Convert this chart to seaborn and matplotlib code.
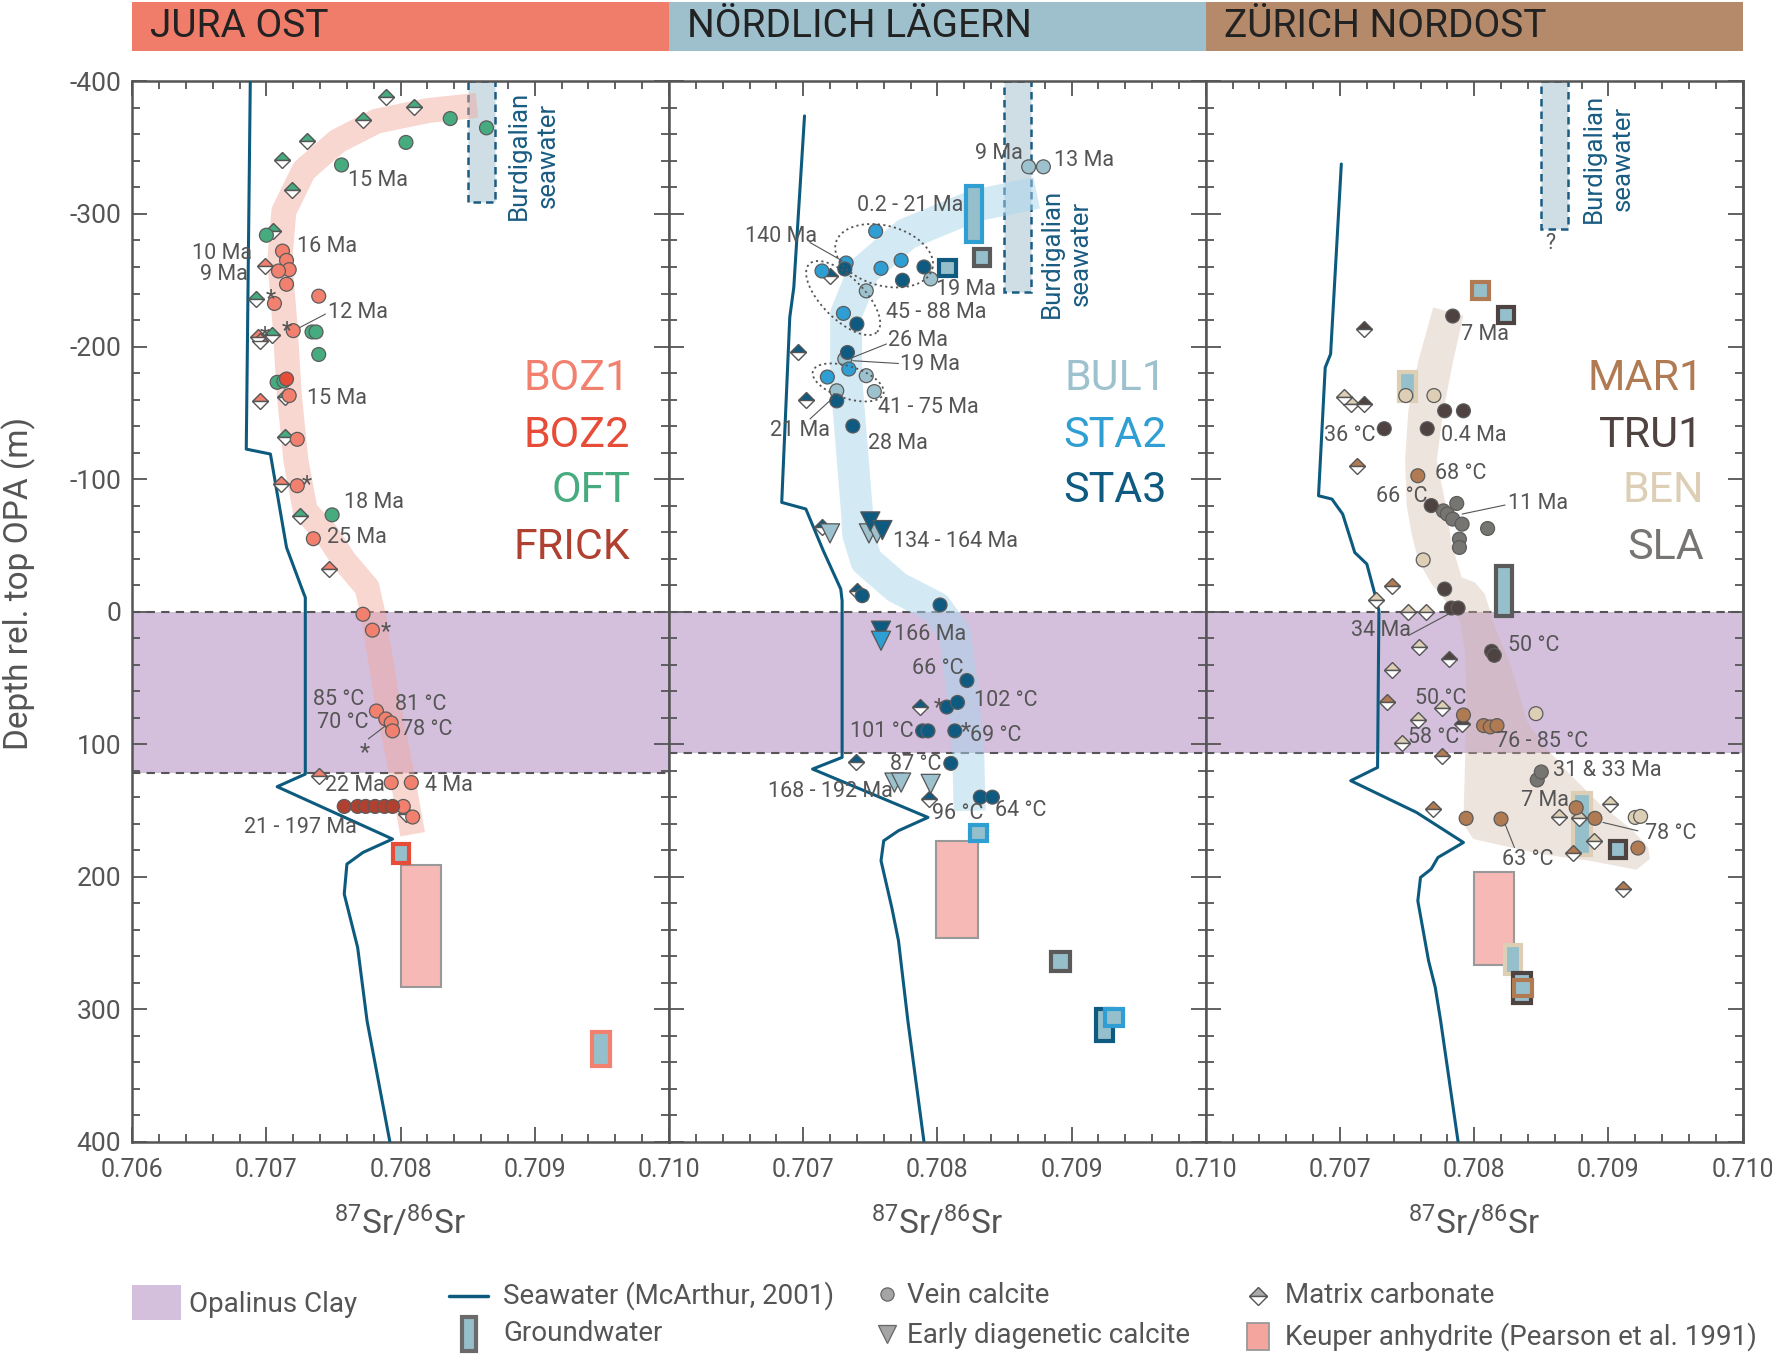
import numpy as np
import pandas as pd
import matplotlib
matplotlib.use('Agg')
import matplotlib.pyplot as plt
import seaborn as sns
from matplotlib.patches import Rectangle, Polygon
from matplotlib.ticker import MultipleLocator

sns.set_style('white')
plt.rcParams['font.family'] = ['Roboto', 'DejaVu Sans']
plt.rcParams['mathtext.default'] = 'regular'

GREY = '#555555'

# borehole colours
COL = {'BOZ1': '#f2806e', 'BOZ2': '#e74c38', 'OFT': '#46ab7f', 'FRICK': '#b0402f',
       'BUL1': '#9dc2ce', 'STA2': '#2f9fd3', 'STA3': '#0e5a80',
       'MAR1': '#b07a52', 'TRU1': '#4e4341', 'BEN': '#dccfb6', 'SLA': '#777572',
       'grey': '#5a5a5a'}

PANELS = ['JURA OST', 'NÖRDLICH LÄGERN', 'ZÜRICH NORDOST']
HEADER_COLORS = ['#f07c6a', '#9dc0cc', '#b48a6a']
HOLES = [['BOZ1', 'BOZ2', 'OFT', 'FRICK'], ['BUL1', 'STA2', 'STA3'], ['MAR1', 'TRU1', 'BEN', 'SLA']]
OPA_BASE = [122, 107, 107]

XTICKS = [0.706, 0.707, 0.708, 0.709, 0.710]
XTICK_LABELS = ['0.706', '0.707', '0.708', '0.709', '0.710']
YTICKS = [-400, -300, -200, -100, 0, 100, 200, 300, 400]
YTICK_LABELS = ['-400', '-300', '-200', '-100', '0', '100', '200', '300', '400']

# seawater curves (McArthur 2001) projected onto depth
SW_X = [
    [0.70688, 0.70685, 0.70703, 0.70709, 0.70715, 0.70728, 0.70729, 0.70729, 0.70708, 0.70794,
     0.70772, 0.70760, 0.70758, 0.70768, 0.70775, 0.70792],
    [0.70701, 0.70693, 0.70690, 0.70684, 0.70702, 0.70715, 0.70728, 0.70729, 0.70729, 0.70707,
     0.70793, 0.70771, 0.70760, 0.70758, 0.70766, 0.70771, 0.70778, 0.70790],
    [0.70701, 0.70693, 0.70689, 0.70684, 0.70694, 0.70702, 0.70711, 0.70720, 0.70726, 0.70729,
     0.70728, 0.70708, 0.70757, 0.70792, 0.70773, 0.70768, 0.70760, 0.70758, 0.70766, 0.70771,
     0.70775, 0.70788],
]
SW_D = [
    [-400, -122.6, -118.9, -83.6, -48.4, -13.2, -10.7, 122.6, 132.1, 171.6, 181.7, 190.5, 213.1,
     253.4, 308.7, 400],
    [-374, -244.6, -222, -82.4, -77.4, -45.9, -17, -8.2, 110, 118.8, 155.3, 165.3, 172.9, 188,
     223.2, 248.3, 308.7, 400],
    [-337.7, -194.3, -184.2, -87.4, -84.9, -73.6, -44.6, -35.9, -13.2, -0.6, 117.6, 127.6, 151.5,
     174.2, 185.5, 194.2, 200.6, 218.2, 263.4, 283.6, 308.7, 400],
]

# vein calcite (circles)
OFT_VEIN = [(0.70837, -372), (0.70864, -365), (0.70804, -354), (0.70756, -337), (0.70700, -284),
            (0.70734, -211), (0.70737, -211), (0.70739, -194), (0.70708, -173), (0.70713, -174),
            (0.70749, -73)]
BOZ1_VEIN = [(0.70712, -272), (0.70715, -265), (0.70717, -258), (0.70709, -257), (0.70715, -247),
             (0.70739, -238), (0.70706, -232.5), (0.70720, -212), (0.70717, -163), (0.70723, -130),
             (0.70723, -95), (0.70735, -55), (0.70772, 2), (0.70779, 14), (0.70782, 75),
             (0.70789, 81), (0.70793, 84), (0.70794, 90), (0.70793, 129), (0.70808, 129),
             (0.70802, 147), (0.70809, 155)]
BOZ2_VEIN = [(0.70715, -175.5)]
FRICK_VEIN = [(0.70758, 147), (0.70768, 147), (0.70774, 147), (0.70781, 147), (0.70788, 147),
              (0.70794, 147)]
STA2_VEIN = [(0.70754, -287), (0.70732, -263), (0.70714, -257), (0.70758, -259), (0.70773, -265),
             (0.70730, -225), (0.70734, -183), (0.70718, -177)]
STA3_VEIN = [(0.70731, -258.5), (0.70790, -260), (0.70774, -250), (0.70740, -217), (0.70733, -195.5),
             (0.70725, -159), (0.70737, -140), (0.70744, -12), (0.70802, -5), (0.70822, 52),
             (0.70807, 72), (0.70815, 68.5), (0.70789, 90), (0.70793, 90), (0.70813, 90),
             (0.70810, 114.5), (0.70832, 140), (0.70841, 140)]
BUL1_VEIN = [(0.70795, -251), (0.70747, -242), (0.70731, -190.6), (0.70747, -178), (0.70753, -166),
             (0.70725, -166.6), (0.70868, -335.6), (0.70879, -335.6)]
TRU1_VEIN = [(0.70784, -223), (0.70733, -138), (0.70765, -138), (0.70778, -151.5), (0.70792, -151.5),
             (0.70768, -80), (0.70778, -17), (0.70783, -2.7), (0.70788, -2.7), (0.70813, 30),
             (0.70815, 33)]
BEN_VEIN = [(0.70749, -163), (0.70770, -163), (0.70762, -39), (0.70846, 77), (0.70920, 155.3),
            (0.70924, 154.5)]
MAR1_VEIN = [(0.70758, -102.5), (0.70792, 78), (0.70807, 86), (0.70812, 87), (0.70817, 86),
             (0.70876, 148), (0.70890, 156), (0.70794, 156), (0.70820, 156.5), (0.70922, 178.4)]
SLA_VEIN = [(0.70777, -76), (0.70780, -73.6), (0.70784, -69.8), (0.70787, -81.6), (0.70791, -66),
            (0.70810, -62.7), (0.70789, -54.7), (0.70789, -48.4), (0.70847, 127), (0.70850, 121)]

# early diagenetic calcite (triangles)
STA3_EARLY = [(0.70750, -68), (0.70759, -61.5), (0.70758, 14.4)]
BUL1_EARLY = [(0.70720, -59), (0.70749, -59), (0.70755, -59), (0.70768, 129), (0.70773, 129),
              (0.70795, 130)]
STA2_EARLY = [(0.70758, 22)]

# matrix carbonate (half filled diamonds)
OFT_MATRIX = [(0.70789, -388), (0.70810, -381), (0.70772, -371), (0.70730, -355), (0.70712, -341),
              (0.70719, -318), (0.70705, -287), (0.70692, -236), (0.70704, -209), (0.70714, -162),
              (0.70714, -132), (0.70725, -72)]
BOZ1_MATRIX = [(0.70699, -261), (0.70694, -207), (0.70695, -204), (0.70695, -159), (0.70711, -96),
               (0.70747, -32), (0.70739, 124), (0.70804, 153)]
STA3_MATRIX = [(0.70720, -253), (0.70696, -196), (0.70702, -160), (0.70714, -63.5), (0.70740, -15.7),
               (0.70787, 71.8), (0.70739, 113.8), (0.70794, 141.4)]
TRU1_MATRIX = [(0.70718, -213), (0.70718, -157), (0.70781, 36), (0.70791, 85)]
BEN_MATRIX = [(0.70703, -162), (0.70708, -157), (0.70727, -9), (0.70751, 0.6), (0.70764, 0.6),
              (0.70759, 27), (0.70739, 44), (0.70776, 73), (0.70758, 82), (0.70746, 99.5),
              (0.70863, 155), (0.70878, 156), (0.70901, 145), (0.70889, 173)]
MAR1_MATRIX = [(0.70713, -110), (0.70739, -19.5), (0.70735, 68), (0.70776, 109), (0.70769, 149),
               (0.70874, 182), (0.70911, 209)]

VEIN = [{'OFT': OFT_VEIN, 'BOZ1': BOZ1_VEIN, 'BOZ2': BOZ2_VEIN, 'FRICK': FRICK_VEIN},
        {'BUL1': BUL1_VEIN, 'STA2': STA2_VEIN, 'STA3': STA3_VEIN},
        {'BEN': BEN_VEIN, 'MAR1': MAR1_VEIN, 'SLA': SLA_VEIN, 'TRU1': TRU1_VEIN}]
EARLY = [{}, {'BUL1': BUL1_EARLY, 'STA3': STA3_EARLY, 'STA2': STA2_EARLY}, {}]
MATRIX = [{'OFT': OFT_MATRIX, 'BOZ1': BOZ1_MATRIX}, {'STA3': STA3_MATRIX},
          {'BEN': BEN_MATRIX, 'MAR1': MAR1_MATRIX, 'TRU1': TRU1_MATRIX}]

# groundwater (x0, x1, d0, d1, borehole)
GW = [
    [(0.70794, 0.70806, 175, 190, 'BOZ2'), (0.70943, 0.70956, 317.5, 343, 'BOZ1')],
    [(0.70821, 0.70833, -321, -279, 'STA2'), (0.70801, 0.70814, -265.5, -253, 'STA3'),
     (0.70827, 0.70839, -273.5, -261, 'grey'), (0.70824, 0.70837, 160.7, 173.3, 'STA2'),
     (0.70885, 0.70899, 257, 271, 'grey'), (0.70918, 0.70931, 300, 324, 'STA3'),
     (0.70925, 0.70938, 300, 313, 'STA2')],
    [(0.70798, 0.70811, -248.4, -235.8, 'MAR1'), (0.70818, 0.70830, -230, -217.4, 'TRU1'),
     (0.70744, 0.70757, -181, -158.6, 'BEN'), (0.70816, 0.70828, -34.6, 3.1, 'grey'),
     (0.70874, 0.70887, 137, 184, 'BEN'), (0.70901, 0.70913, 173.4, 186, 'TRU1'),
     (0.70823, 0.70835, 251.6, 273.5, 'BEN'), (0.70829, 0.70842, 273, 295, 'TRU1'),
     (0.70830, 0.70843, 278, 290, 'MAR1')],
]

# Keuper anhydrite (Pearson et al. 1991)
KEUPER = [(0.70800, 0.70830, 191, 283), (0.70799, 0.70830, 173.4, 246.3), (0.70800, 0.70830, 196.8, 266.7)]

# Burdigalian seawater box and label
BURDI_BOX = [(0.7085, 0.7087, -309), (0.7085, 0.7087, -241), (0.7085, 0.7087, -289)]
BURDI_TEXT = [(0.70899, -344), (0.70896, -270.5), (0.70900, -342)]

# trend bands
BAND1_X = [0.70857, 0.70820, 0.70782, 0.70753, 0.70728, 0.70713, 0.70710, 0.70714, 0.70717, 0.70722,
           0.70729, 0.70745, 0.70758, 0.70775, 0.70780, 0.70790, 0.70800, 0.70809]
BAND1_D = [-382, -378, -370, -355, -333, -302, -265, -214, -164, -114, -76, -58.5, -38.4, -18.2,
           4.4, 67.3, 117.6, 168]
BAND2_X = [0.70874, 0.70827, 0.70777, 0.70745, 0.70732, 0.70732, 0.70736, 0.70740, 0.70741, 0.70747,
           0.70770, 0.70799, 0.70813, 0.70818, 0.70823, 0.70824]
BAND2_D = [-316, -306, -285, -257, -224.5, -176.7, -126.4, -76.1, -58.5, -38.4, -18.2, -3.1, 16.9,
           54.7, 105, 150.3]
BAND3_X = [0.707695, 0.707584, 0.707509, 0.707485, 0.707497, 0.707534, 0.707584, 0.707683, 0.707807,
           0.707894, 0.707931, 0.707944, 0.707931, 0.707919, 0.707993, 0.70849, 0.708862, 0.709209,
           0.709309, 0.709296, 0.709184, 0.708936, 0.708688, 0.70849, 0.708391, 0.708279, 0.708155,
           0.70808, 0.708006, 0.707907, 0.707832, 0.707782, 0.707721, 0.70777, 0.707844, 0.707919]
BAND3_D = [-229.5, -189.3, -151.5, -113.8, -80, -58.5, -38.4, -20.8, -5.7, 6.9, 29.5, 67.3, 117.6,
           160.3, 171.6, 182.9, 188, 194.8, 186.7, 178, 165.3, 145.2, 120.1, 97.4, 82.4, 42.1, 12,
           -13.2, -22, -25.8, -51, -83.6, -113.8, -151.5, -189.3, -223.2]

# annotations (x, depth, text, ha)
LABELS = [
    [(0.70761, -325, '15 Ma', 'left'), (0.70723, -275.5, '16 Ma', 'left'),
     (0.70689, -270, '10 Ma', 'right'), (0.70686, -254.7, '9 Ma', 'right'),
     (0.70746, -225.7, '12 Ma', 'left'), (0.70730, -160.8, '15 Ma', 'left'),
     (0.70758, -82.4, '18 Ma', 'left'), (0.70745, -56, '25 Ma', 'left'),
     (0.70735, 66.5, '85 °C', 'left'), (0.70738, 83.6, '70 °C', 'left'),
     (0.70796, 70.3, '81 °C', 'left'), (0.70800, 88.6, '78 °C', 'left'),
     (0.70744, 131.4, '22 Ma', 'left'), (0.70818, 131.4, '4 Ma', 'left'),
     (0.70683, 162.8, '21 - 197 Ma', 'left')],
    [(0.70864, -345.7, '9 Ma', 'right'), (0.70887, -340.3, '13 Ma', 'left'),
     (0.70740, -306.2, '0.2 - 21 Ma', 'left'), (0.70657, -282.8, '140 Ma', 'left'),
     (0.70799, -243.4, '19 Ma', 'left'), (0.70762, -225.7, '45 - 88 Ma', 'left'),
     (0.70763, -204.4, '26 Ma', 'left'), (0.70772, -186.3, '19 Ma', 'left'),
     (0.70756, -154, '41 - 75 Ma', 'left'), (0.70675, -136.5, '21 Ma', 'left'),
     (0.70748, -126.9, '28 Ma', 'left'), (0.70767, -53, '134 - 164 Ma', 'left'),
     (0.70768, 17.5, '166 Ma', 'left'), (0.70781, 43.3, '66 °C', 'left'),
     (0.70827, 67.3, '102 °C', 'left'), (0.70735, 90.4, '101 °C', 'left'),
     (0.70824, 93.7, '69 °C', 'left'), (0.70765, 115, '87 °C', 'left'),
     (0.70674, 135.7, '168 - 192 Ma', 'left'), (0.70796, 152.7, '96 °C', 'left'),
     (0.70843, 150.2, '64 °C', 'left')],
    [(0.70790, -209.4, '7 Ma', 'left'), (0.70688, -132.7, '36 °C', 'left'),
     (0.70775, -132.7, '0.4 Ma', 'left'), (0.70771, -104.2, '68 °C', 'left'),
     (0.70727, -86.7, '66 °C', 'left'), (0.70825, -81.6, '11 Ma', 'left'),
     (0.70708, 14.4, '34 Ma', 'left'), (0.70825, 25.8, '50 °C', 'left'),
     (0.70756, 65.2, '50 °C', 'left'), (0.70751, 94.9, '58 °C', 'left'),
     (0.70816, 98, '76 - 85 °C', 'left'), (0.70859, 120, '31 & 33 Ma', 'left'),
     (0.70835, 142.7, '7 Ma', 'left'), (0.70927, 167.8, '78 °C', 'left'),
     (0.70821, 186.7, '63 °C', 'left'), (0.70857, -278, '?', 'center')],
]
LEADERS = [
    [((0.70725, -214.4), (0.70744, -224.5)), ((0.70776, 96), (0.70789, 86))],
    [((0.70705, -278.5), (0.70729, -264.7)), ((0.70737, -191.8), (0.70762, -201.9)),
     ((0.70737, -189.3), (0.70771, -187.2)), ((0.70705, -145.3), (0.70722, -161.1))],
    [((0.70791, -73.6), (0.70823, -80.4)), ((0.70752, 17.5), (0.70781, 1.8)),
     ((0.70896, 159.1), (0.70922, 165.4)), ((0.70823, 160.3), (0.70830, 178))],
]
STARS = [
    [(0.70703, -242.6), (0.70699, -214.4), (0.70715, -218), (0.70730, -101.7), (0.70789, 9.4),
     (0.70773, 100)],
    [(0.70801, 66.5), (0.70821, 84.8)],
    [],
]
# dotted groupings in Nördlich Lägern: centre x, centre depth, semi axes (px), angle
ELLIPSES = [(0.707603, -268.5, 50, 30, -15), (0.707298, -236.6, 48, 21, -45),
            (0.707335, -172.9, 37, 16, -18)]

fig, axes = plt.subplots(1, 3, figsize=(17.72, 13.69), dpi=100, sharey=True)
L, R, B, T = 0.0746, 0.9834, 0.166, 0.9405
fig.subplots_adjust(left=L, right=R, bottom=B, top=T, wspace=0)
px_x = 0.004 / ((R - L) / 3 * 1772)
px_d = 800 / ((T - B) * 1369)


def frame(groups):
    rows = [(x, d, h) for h, pts in groups.items() for x, d in pts]
    return pd.DataFrame(rows, columns=['sr', 'depth', 'borehole'])


for i, ax in enumerate(axes):
    ax.set_xlim(0.706, 0.710)
    ax.set_ylim(400, -400)

    # Opalinus Clay
    ax.axhspan(0, OPA_BASE[i], color='#d4bfdd', lw=0, zorder=0)
    for d in (0, OPA_BASE[i]):
        ax.axhline(d, color=GREY, lw=1.5, ls=(0, (4, 3)), zorder=1)

    # Burdigalian seawater
    x0, x1, dbot = BURDI_BOX[i]
    ax.add_patch(Rectangle((x0, -400), x1 - x0, dbot + 400, facecolor='#cfdee5',
                           edgecolor='#1a5c82', lw=1.8, ls=(0, (3, 2)), zorder=2))
    tx, td = BURDI_TEXT[i]
    ax.text(tx, td, 'Burdigalian\nseawater', rotation=90, ha='center', va='center',
            multialignment='center', fontsize=18.5, color='#1a5c82', linespacing=1.25, zorder=7)

    # trend band
    if i == 0:
        ax.plot(BAND1_X, BAND1_D, color='#f2a89b', alpha=0.45, lw=18, solid_capstyle='butt',
                solid_joinstyle='round', zorder=3)
    elif i == 1:
        ax.plot(BAND2_X, BAND2_D, color='#a9d5eb', alpha=0.5, lw=23, solid_capstyle='butt',
                solid_joinstyle='round', zorder=3)
    else:
        ax.add_patch(Polygon(np.column_stack([BAND3_X, BAND3_D]), closed=True,
                             facecolor='#d1b2a1', alpha=0.35, lw=0, joinstyle='round', zorder=3))

    # seawater curve
    ax.plot(SW_X[i], SW_D[i], color='#0d5a7f', lw=2.2, zorder=4)

    # Keuper anhydrite
    k0, k1, kd0, kd1 = KEUPER[i]
    ax.add_patch(Rectangle((k0, kd0), k1 - k0, kd1 - kd0, facecolor='#f7b9b5',
                           edgecolor='#999999', lw=1.5, zorder=4))

    # groundwater
    for g0, g1, gd0, gd1, h in GW[i]:
        ax.add_patch(Rectangle((g0, gd0), g1 - g0, gd1 - gd0, facecolor='#96bfcc',
                               edgecolor=COL[h], lw=3, zorder=5))

    # matrix carbonate
    for h, pts in MATRIX[i].items():
        xs, ds = zip(*pts)
        ax.plot(xs, ds, ls='none', marker='D', ms=8.5, fillstyle='top', markerfacecolor=COL[h],
                markerfacecoloralt='white', markeredgecolor=GREY, markeredgewidth=1, zorder=5)

    # early diagenetic calcite
    if EARLY[i]:
        sns.scatterplot(data=frame(EARLY[i]), x='sr', y='depth', hue='borehole', palette=COL,
                        marker='v', s=190, edgecolor=GREY, linewidth=0.9, legend=False, ax=ax, zorder=6)

    # vein calcite
    sns.scatterplot(data=frame(VEIN[i]), x='sr', y='depth', hue='borehole', palette=COL,
                    marker='o', s=100, edgecolor='#5c5c5c', linewidth=0.9, legend=False, ax=ax, zorder=6)

    # annotations
    for x, d, s, ha in LABELS[i]:
        ax.text(x, d, s, ha=ha, va='center', fontsize=15.5, color=GREY, zorder=8)
    for (xa, da), (xb, db) in LEADERS[i]:
        ax.plot([xa, xb], [da, db], color=GREY, lw=0.8, zorder=7)
    for x, d in STARS[i]:
        ax.text(x, d + 6, '*', ha='center', va='center', fontsize=17, color=GREY, zorder=8)
    if i == 1:
        t = np.linspace(0, 2 * np.pi, 200)
        for cx, cd, a, b, ang in ELLIPSES:
            th = np.deg2rad(ang)
            ex = a * np.cos(t) * np.cos(th) - b * np.sin(t) * np.sin(th)
            ey = a * np.cos(t) * np.sin(th) + b * np.sin(t) * np.cos(th)
            ax.plot(cx + ex * px_x, cd - ey * px_d, color=GREY, lw=1.3, ls=(0, (1.2, 1.8)), zorder=7)

    # borehole names
    for k, h in enumerate(HOLES[i]):
        ax.text(0.70971, [-175.7, -133, -91.2, -48.6][k], h, ha='right', va='center',
                fontsize=31, color=COL[h], zorder=8)

    # header
    ax.add_patch(Rectangle((0, 1.0288), 1, 0.0458, transform=ax.transAxes, clip_on=False,
                           facecolor=HEADER_COLORS[i], lw=0))
    ax.text(0.034, 1.0515, PANELS[i], transform=ax.transAxes, ha='left', va='center',
            fontsize=28, color='#222222')

    # axes styling
    ax.set_xticks(XTICKS)
    ax.set_xticklabels(XTICK_LABELS if i == 0 else [''] + XTICK_LABELS[1:])
    ax.xaxis.set_minor_locator(MultipleLocator(0.0002))
    ax.set_yticks(YTICKS)
    ax.yaxis.set_minor_locator(MultipleLocator(20))
    ax.tick_params(axis='x', which='both', direction='in', top=True, bottom=True, color=GREY,
                   labelcolor=GREY, labelsize=18, width=1.3, pad=12)
    ax.tick_params(axis='x', which='major', length=10.5)
    ax.tick_params(axis='x', which='minor', length=5.5)
    if i == 0:
        ax.tick_params(axis='y', which='both', direction='in', left=True, right=False, color=GREY,
                       labelcolor=GREY, labelsize=19, width=1.3, pad=8)
        ax.tick_params(axis='y', which='major', length=10.5)
        ax.tick_params(axis='y', which='minor', length=5.5)
        ax.set_yticklabels(YTICK_LABELS)
    else:
        ax.tick_params(axis='y', which='both', direction='inout', left=True, right=False,
                       labelleft=False, color=GREY, width=1.3)
        ax.tick_params(axis='y', which='major', length=21)
        ax.tick_params(axis='y', which='minor', length=11)
    for sp in ax.spines.values():
        sp.set_color(GREY)
        sp.set_linewidth(1.8)
    ax.set_xlabel('')
    ax.set_ylabel('')
    ax.text(0.5, -0.077, r'$^{87}$Sr/$^{86}$Sr', transform=ax.transAxes, ha='center', va='center',
            fontsize=24, color=GREY)

sec = axes[2].secondary_yaxis('right')
sec.set_yticks(YTICKS)
sec.yaxis.set_minor_locator(MultipleLocator(20))
sec.tick_params(axis='y', which='both', direction='in', labelright=False, color=GREY, width=1.3)
sec.tick_params(axis='y', which='major', length=10.5)
sec.tick_params(axis='y', which='minor', length=5.5)
sec.spines['right'].set_color(GREY)
sec.spines['right'].set_linewidth(1.8)

fig.text(0.0105, 0.574, 'Depth rel. top OPA (m)', rotation=90, ha='center', va='center',
         fontsize=24, color=GREY)

# legend, laid out in reference pixel units
lax = fig.add_axes([0, 0, 1, 0.1])
lax.set_xlim(0, 1568)
lax.set_ylim(1211, 1089.9)
lax.axis('off')
lax.add_patch(Rectangle((117, 1137), 43, 31, facecolor='#d4bfdd', lw=0))
lax.text(167, 1154, 'Opalinus Clay', va='center', fontsize=20, color=GREY)
lax.plot([397, 432], [1146, 1146], color='#0d5a7f', lw=2.5)
lax.text(445, 1146, 'Seawater (McArthur, 2001)', va='center', fontsize=20, color=GREY)
lax.add_patch(Rectangle((409, 1165), 12, 30, facecolor='#96bfcc', edgecolor='#6a6a6a', lw=3))
lax.text(445, 1180, 'Groundwater', va='center', fontsize=20, color=GREY)
lax.plot([785], [1145], marker='o', ms=9.5, color='#a5a5a5', markeredgecolor='#666666', mew=0.9)
lax.text(803, 1146, 'Vein calcite', va='center', fontsize=20, color=GREY)
lax.plot([785], [1180], marker='v', ms=13, color='#a5a5a5', markeredgecolor='#666666', mew=0.9)
lax.text(803, 1181, 'Early diagenetic calcite', va='center', fontsize=20, color=GREY)
lax.plot([1113], [1146], marker='D', ms=9, fillstyle='top', markerfacecolor='#aaaaaa',
         markerfacecoloralt='white', markeredgecolor=GREY, mew=1)
lax.text(1137, 1146, 'Matrix carbonate', va='center', fontsize=20, color=GREY)
lax.add_patch(Rectangle((1103, 1170), 20, 24, facecolor='#f4a59d', edgecolor='#999999', lw=1.3))
lax.text(1137, 1182, 'Keuper anhydrite (Pearson et al. 1991)', va='center', fontsize=20, color=GREY)

fig.savefig('out.png', dpi=100)
